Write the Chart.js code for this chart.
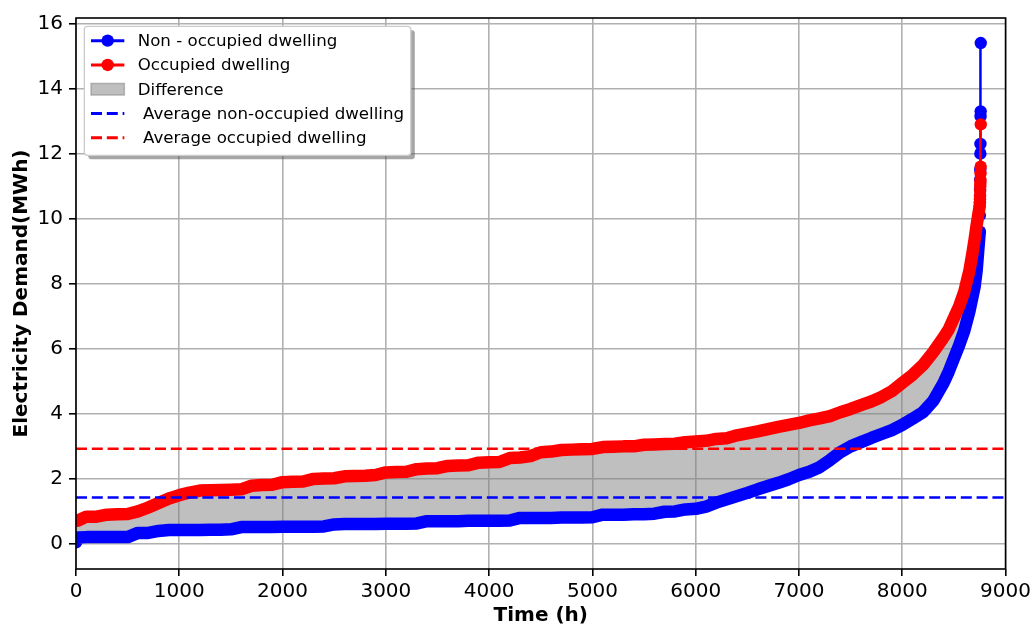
<!DOCTYPE html>
<html>
<head>
<meta charset="utf-8">
<title>Electricity demand duration curves</title>
<script src="https://cdn.jsdelivr.net/npm/chart.js@4.4.1/dist/chart.umd.min.js"></script>
<style>
  html, body { margin: 0; padding: 0; background: #fff; }
  #demandChart { display: block; }
</style>
</head>
<body>
<canvas id="demandChart" width="1035" height="628"></canvas>
<script>
"use strict";

// hours of the sorted year (load duration curve)
const hours = [0, 20, 100, 200, 300, 400, 500, 600, 700, 800,
  900, 1000, 1100, 1200, 1300, 1400, 1500, 1600, 1700, 1800,
  1900, 2000, 2100, 2200, 2300, 2400, 2500, 2600, 2700, 2800,
  2900, 3000, 3100, 3200, 3300, 3400, 3500, 3600, 3700, 3800,
  3900, 4000, 4100, 4200, 4300, 4400, 4500, 4600, 4700, 4800,
  4900, 5000, 5100, 5200, 5300, 5400, 5500, 5600, 5700, 5800,
  5900, 6000, 6100, 6200, 6300, 6400, 6500, 6600, 6700, 6800,
  6900, 7000, 7100, 7200, 7300, 7400, 7500, 7600, 7700, 7800,
  7900, 8000, 8100, 8200, 8300, 8400, 8450, 8500, 8550, 8600,
  8650, 8680, 8700, 8720, 8730, 8740, 8750];

const nonOccupied = [0.05, 0.2, 0.21, 0.21, 0.21, 0.21, 0.21, 0.34, 0.34, 0.4,
  0.43, 0.43, 0.43, 0.43, 0.44, 0.44, 0.45, 0.52, 0.52, 0.52,
  0.52, 0.53, 0.53, 0.53, 0.53, 0.54, 0.6, 0.61, 0.61, 0.61,
  0.61, 0.62, 0.62, 0.62, 0.63, 0.7, 0.7, 0.7, 0.7, 0.71,
  0.71, 0.71, 0.71, 0.72, 0.8, 0.8, 0.8, 0.8, 0.81, 0.81,
  0.81, 0.82, 0.9, 0.9, 0.9, 0.91, 0.91, 0.93, 0.99, 1.0,
  1.06, 1.08, 1.15, 1.27, 1.37, 1.47, 1.57, 1.68, 1.78, 1.88,
  1.99, 2.12, 2.22, 2.36, 2.58, 2.82, 3.0, 3.13, 3.26, 3.38,
  3.5, 3.66, 3.85, 4.05, 4.4, 4.95, 5.3, 5.7, 6.1, 6.55,
  7.15, 7.6, 7.9, 8.4, 8.8, 9.2, 9.6];

const occupied = [0.71, 0.72, 0.84, 0.84, 0.9, 0.91, 0.92, 1.0, 1.12, 1.26,
  1.4, 1.5, 1.58, 1.64, 1.65, 1.66, 1.67, 1.68, 1.79, 1.81,
  1.82, 1.9, 1.91, 1.92, 2.0, 2.01, 2.02, 2.08, 2.09, 2.1,
  2.12, 2.2, 2.21, 2.22, 2.3, 2.32, 2.33, 2.4, 2.41, 2.42,
  2.5, 2.51, 2.52, 2.64, 2.66, 2.7, 2.82, 2.84, 2.89, 2.9,
  2.91, 2.92, 2.98, 2.99, 3.0, 3.0, 3.05, 3.06, 3.07, 3.08,
  3.13, 3.15, 3.17, 3.23, 3.25, 3.34, 3.4, 3.46, 3.53, 3.6,
  3.66, 3.72, 3.8, 3.86, 3.93, 4.05, 4.15, 4.27, 4.38, 4.52,
  4.7, 4.95, 5.2, 5.5, 5.9, 6.35, 6.6, 6.95, 7.3, 7.75,
  8.4, 8.95, 9.35, 9.8, 10.0, 10.2, 10.4];

// last hours of the year, where single markers are visible
const peakHours = [8750, 8751, 8752, 8753, 8754, 8755, 8756, 8757, 8758, 8759, 8760];
const nonOccupiedPeak = [9.6, 10.1, 10.5, 10.9, 11.2, 11.5, 12.0, 12.3, 13.15, 13.3, 15.4];
const occupiedPeak = [10.4, 10.5, 10.6, 10.7, 10.85, 11.0, 11.1, 11.2, 11.4, 11.6, 12.9];

const avgNonOccupied = 1.43;
const avgOccupied = 2.93;

const xTicks = [0, 1000, 2000, 3000, 4000, 5000, 6000, 7000, 8000, 9000];
const yTicks = [0, 2, 4, 6, 8, 10, 12, 14, 16];

const legendLabels = [
  "Non - occupied dwelling",
  "Occupied dwelling",
  "Difference",
  " Average non-occupied dwelling",
  " Average occupied dwelling"
];

const BLUE = "#0000ff";
const RED = "#ff0000";
const FILL = "rgba(128, 128, 128, 0.5)";
const FAMILY = "'DejaVu Sans', sans-serif";

function toPoints(xs, ys) {
  return xs.map(function (x, i) {
    return { x: x, y: ys[i] };
  });
}

function roundRect(ctx, x, y, w, h, r) {
  ctx.beginPath();
  ctx.moveTo(x + r, y);
  ctx.lineTo(x + w - r, y);
  ctx.arcTo(x + w, y, x + w, y + r, r);
  ctx.lineTo(x + w, y + h - r);
  ctx.arcTo(x + w, y + h, x + w - r, y + h, r);
  ctx.lineTo(x + r, y + h);
  ctx.arcTo(x, y + h, x, y + h - r, r);
  ctx.lineTo(x, y + r);
  ctx.arcTo(x, y, x + r, y, r);
  ctx.closePath();
}

// four black spines round the plot area
const framePlugin = {
  id: "frame",
  afterDatasetsDraw(chart) {
    const ctx = chart.ctx;
    const a = chart.chartArea;
    ctx.save();
    ctx.strokeStyle = "#000";
    ctx.lineWidth = 1.6;
    ctx.strokeRect(a.left, a.top, a.right - a.left, a.bottom - a.top);
    ctx.restore();
  }
};

// legend box in the upper left corner, drawn like the original one
const legendPlugin = {
  id: "boxLegend",
  afterDraw(chart) {
    const ctx = chart.ctx;
    const a = chart.chartArea;
    const fs = 16.67;
    ctx.save();
    ctx.font = fs + "px " + FAMILY;
    let textW = 0;
    legendLabels.forEach(function (l) {
      textW = Math.max(textW, ctx.measureText(l).width);
    });
    const pad = 0.4 * fs;
    const handleLen = 2 * fs;
    const textPad = 0.8 * fs;
    const x0 = a.left + 0.5 * fs;
    const y0 = a.top + 0.5 * fs;
    const w = pad + handleLen + textPad + textW + pad;
    const h = 129;
    const rowH = 24.3;

    ctx.fillStyle = "rgba(77, 77, 77, 0.5)";
    roundRect(ctx, x0 + 4, y0 + 4, w, h, 3);
    ctx.fill();
    ctx.fillStyle = "#fff";
    roundRect(ctx, x0, y0, w, h, 3);
    ctx.fill();
    ctx.strokeStyle = "#cccccc";
    ctx.lineWidth = 1.3;
    ctx.stroke();

    const hx0 = x0 + pad;
    const hx1 = hx0 + handleLen;
    const hmid = (hx0 + hx1) / 2;
    const styles = [
      { kind: "marker", color: BLUE },
      { kind: "marker", color: RED },
      { kind: "patch" },
      { kind: "dash", color: BLUE },
      { kind: "dash", color: RED }
    ];

    styles.forEach(function (s, i) {
      const cy = y0 + 14.3 + i * rowH;
      if (s.kind === "marker") {
        ctx.strokeStyle = s.color;
        ctx.lineWidth = 3;
        ctx.setLineDash([]);
        ctx.beginPath();
        ctx.moveTo(hx0, cy);
        ctx.lineTo(hx1, cy);
        ctx.stroke();
        ctx.fillStyle = s.color;
        ctx.beginPath();
        ctx.arc(hmid, cy, 6.2, 0, Math.PI * 2);
        ctx.fill();
      } else if (s.kind === "patch") {
        ctx.fillStyle = FILL;
        ctx.fillRect(hx0, cy - 5.8, handleLen, 11.6);
        ctx.strokeStyle = "rgba(128, 128, 128, 0.5)";
        ctx.lineWidth = 1.5;
        ctx.strokeRect(hx0, cy - 5.8, handleLen, 11.6);
      } else {
        ctx.strokeStyle = s.color;
        ctx.lineWidth = 3;
        ctx.setLineDash([11, 4.8]);
        ctx.beginPath();
        ctx.moveTo(hx0, cy);
        ctx.lineTo(hx1, cy);
        ctx.stroke();
        ctx.setLineDash([]);
      }
      ctx.fillStyle = "#000";
      ctx.textAlign = "left";
      ctx.textBaseline = "middle";
      ctx.fillText(legendLabels[i], hx1 + textPad, cy + 1);
    });
    ctx.restore();
  }
};

document.addEventListener("DOMContentLoaded", function () {
  Chart.defaults.font.family = FAMILY;
  Chart.defaults.color = "#000";

  const tickFont = { family: FAMILY, size: 20 };
  const titleFont = { family: FAMILY, size: 20, weight: "bold" };

  const ctx = document.getElementById("demandChart").getContext("2d");

  // higher order is drawn first: blue band, blue peak, red band, red peak, averages
  const demandChart = new Chart(ctx, {
    type: "line",
    data: {
      datasets: [
        {
          label: "Occupied dwelling",
          data: toPoints(hours, occupied),
          borderColor: RED,
          backgroundColor: FILL,
          borderWidth: 12.5,
          borderCapStyle: "round",
          borderJoinStyle: "round",
          pointRadius: 0,
          fill: "+1",
          clip: 0,
          order: 3
        },
        {
          label: "Non - occupied dwelling",
          data: toPoints(hours, nonOccupied),
          borderColor: BLUE,
          borderWidth: 12.5,
          borderCapStyle: "round",
          borderJoinStyle: "round",
          pointRadius: 0,
          fill: false,
          clip: 0,
          order: 5
        },
        {
          label: "Non - occupied peak",
          data: toPoints(peakHours, nonOccupiedPeak),
          borderColor: BLUE,
          borderWidth: 2.5,
          pointRadius: 6.2,
          pointBorderWidth: 0,
          pointBackgroundColor: BLUE,
          fill: false,
          clip: 0,
          order: 4
        },
        {
          label: "Occupied peak",
          data: toPoints(peakHours, occupiedPeak),
          borderColor: RED,
          borderWidth: 2.5,
          pointRadius: 6.2,
          pointBorderWidth: 0,
          pointBackgroundColor: RED,
          fill: false,
          clip: 0,
          order: 1
        },
        {
          label: "Average non-occupied dwelling",
          data: [{ x: 0, y: avgNonOccupied }, { x: 9000, y: avgNonOccupied }],
          borderColor: BLUE,
          borderWidth: 2.5,
          borderDash: [11, 4.8],
          pointRadius: 0,
          fill: false,
          clip: 0,
          order: 0
        },
        {
          label: "Average occupied dwelling",
          data: [{ x: 0, y: avgOccupied }, { x: 9000, y: avgOccupied }],
          borderColor: RED,
          borderWidth: 2.5,
          borderDash: [11, 4.8],
          pointRadius: 0,
          fill: false,
          clip: 0,
          order: 0
        }
      ]
    },
    options: {
      responsive: false,
      animation: false,
      events: [],
      layout: { padding: { left: 0, top: 14, right: 29, bottom: 0 } },
      plugins: {
        legend: { display: false },
        tooltip: { enabled: false },
        filler: { drawTime: "beforeDatasetsDraw" }
      },
      scales: {
        x: {
          type: "linear",
          min: 0,
          max: 9000,
          afterBuildTicks: function (scale) {
            scale.ticks = xTicks.map(function (v) { return { value: v }; });
          },
          afterFit: function (scale) {
            scale.height = 59;
          },
          ticks: {
            font: tickFont,
            color: "#000",
            padding: 4,
            maxRotation: 0,
            autoSkip: false,
            callback: function (v) { return String(v); }
          },
          grid: {
            color: "#b0b0b0",
            lineWidth: 1.6,
            tickColor: "#000",
            tickWidth: 1.6,
            tickLength: 7
          },
          border: { display: false },
          title: {
            display: true,
            text: "Time (h)",
            font: titleFont,
            color: "#000",
            padding: { top: 0, bottom: 0 }
          }
        },
        y: {
          type: "linear",
          min: -0.77,
          max: 16.17,
          afterBuildTicks: function (scale) {
            scale.ticks = yTicks.map(function (v) { return { value: v }; });
          },
          afterFit: function (scale) {
            scale.width = 76;
          },
          ticks: {
            font: tickFont,
            color: "#000",
            padding: 6,
            autoSkip: false,
            callback: function (v) { return String(v); }
          },
          grid: {
            color: "#b0b0b0",
            lineWidth: 1.6,
            tickColor: "#000",
            tickWidth: 1.6,
            tickLength: 7
          },
          border: { display: false },
          title: {
            display: true,
            text: "Electricity Demand(MWh)",
            font: titleFont,
            color: "#000",
            padding: { top: 10, bottom: 0 }
          }
        }
      }
    },
    plugins: [framePlugin, legendPlugin]
  });
});
</script>
</body>
</html>
